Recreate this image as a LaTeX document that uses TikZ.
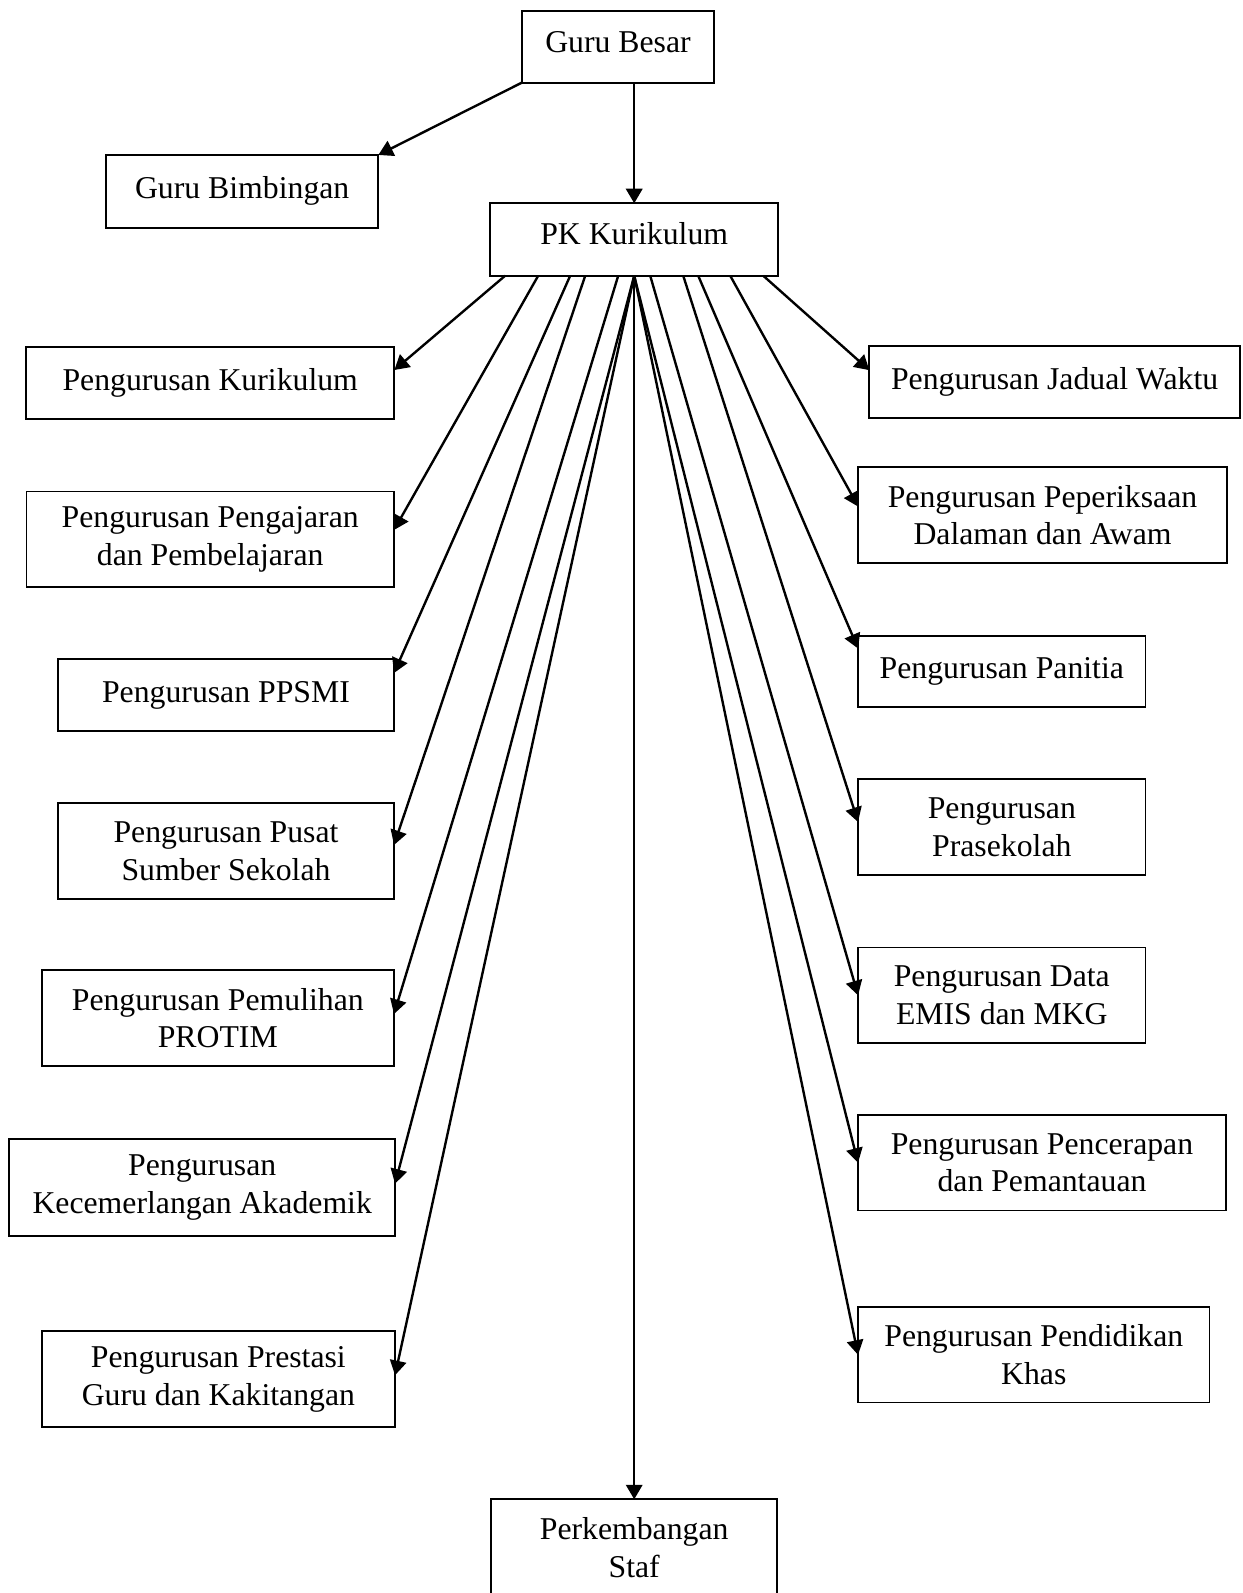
\documentclass[tikz,border=0pt]{standalone}
\usepackage{fontspec}
\setmainfont{Liberation Serif}
\usetikzlibrary{arrows.meta,calc}
% one drawing unit, y grows downwards
\newcommand{\pxunit}{0.378pt}
\tikzset{
  orgbox/.style={draw, line width=0.68pt, align=center, inner sep=0pt, outer sep=0pt,
                 font=\fontsize{12}{14.2}\selectfont},
  sized/.style 2 args={minimum width=#1*\pxunit, minimum height=#2*\pxunit},
  flat/.style={text height=0.68em, text depth=0.3em},
  link/.style={line width=0.9pt, -{Triangle[length=5.5pt,width=6.2pt]}},
}
\begin{document}
\begin{tikzpicture}[x=\pxunit,y=-\pxunit]
\useasboundingbox (0,0) rectangle (1242,1593);

% top of the chart
\node[orgbox, flat, sized={192.6}{71.4}] (gb) at (618,47) {Guru Besar};
\node[orgbox, sized={272.3}{72.7}] (gbim) at (242.2,191.3) {Guru Bimbingan};
\node[orgbox, flat, sized={288.3}{72.4}] (pk) at (634.2,239.5) {PK Kurikulum};

% left column
\node[orgbox, sized={368.3}{72}]   (kur)  at (210.2,383.3) {Pengurusan Kurikulum};
\node[orgbox, sized={367.6}{95.5}] (pdp)  at (210.2,539.3) {Pengurusan Pengajaran\\dan Pembelajaran};
\node[orgbox, sized={336}{72}]     (ppsmi) at (226,695) {Pengurusan PPSMI};
\node[orgbox, sized={336}{96}]     (pss)  at (226,851) {Pengurusan Pusat\\Sumber Sekolah};
\node[orgbox, sized={352.4}{96}]   (pem)  at (217.8,1018) {Pengurusan Pemulihan\\PROTIM};
\node[orgbox, sized={385.7}{96.7}] (kec)  at (202.2,1187.7) {Pengurusan\\Kecemerlangan Akademik};
\node[orgbox, sized={353.3}{96.3}] (pres) at (218.4,1379.2) {Pengurusan Prestasi\\Guru dan Kakitangan};

% right column
\node[orgbox, sized={370.5}{72.3}] (jad)  at (1054.6,382.2) {Pengurusan Jadual Waktu};
\node[orgbox, sized={368.4}{96}]   (pep)  at (1042.5,515.3) {Pengurusan Peperiksaan\\Dalaman dan Awam};
\node[orgbox, sized={287.5}{71}]   (pan)  at (1001.8,671.5) {Pengurusan Panitia};
\node[orgbox, sized={287.5}{96}]   (pra)  at (1001.8,827) {Pengurusan\\Prasekolah};
\node[orgbox, sized={287.5}{95.5}] (emis) at (1001.8,995.3) {Pengurusan Data\\EMIS dan MKG};
\node[orgbox, sized={368}{95.5}]   (pen)  at (1042,1162.8) {Pengurusan Pencerapan\\dan Pemantauan};
\node[orgbox, sized={351.5}{95.5}] (khas) at (1033.8,1354.8) {Pengurusan Pendidikan\\Khas};

% bottom
\node[orgbox, sized={286}{97}] (staf) at (634.2,1547.8) {Perkembangan\\Staf};

% connectors
\draw[link] (gb.south west) -- (gbim.north east);
\draw[link] (gb.south -| pk.north) -- (pk.north);
\draw[link] (pk.south) -- (staf.north);

\draw[link] ($(pk.south)+(-129,0)$) -- ($(kur.east)+(0,-13.3)$);
\draw[link] ($(pk.south)+(-96,0)$)  -- ($(pdp.east)+(0,-9.3)$);
\draw[link] ($(pk.south)+(-64,0)$)  -- ($(ppsmi.east)+(0,-22)$);
\draw[link] ($(pk.south)+(-49,0)$)  -- ($(pss.east)+(0,-6)$);
\draw[link] ($(pk.south)+(-16,0)$)  -- ($(pem.east)+(0,-4)$);
\draw[link] (pk.south) -- ($(kec.east)+(0,-4)$);
\draw[link] (pk.south) -- ($(pres.east)+(0,-4)$);

\draw[link] ($(pk.south)+(129,0)$) -- ($(jad.west)+(0,-12)$);
\draw[link] ($(pk.south)+(96,0)$)  -- ($(pep.west)+(0,-8.6)$);
\draw[link] ($(pk.south)+(64,0)$)  -- ($(pan.west)+(0,-23)$);
\draw[link] ($(pk.south)+(49,0)$)  -- ($(pra.west)+(0,-5)$);
\draw[link] ($(pk.south)+(16,0)$)  -- (emis.west);
\draw[link] (pk.south) -- (pen.west);
\draw[link] (pk.south) -- (khas.west);
\end{tikzpicture}
\end{document}
